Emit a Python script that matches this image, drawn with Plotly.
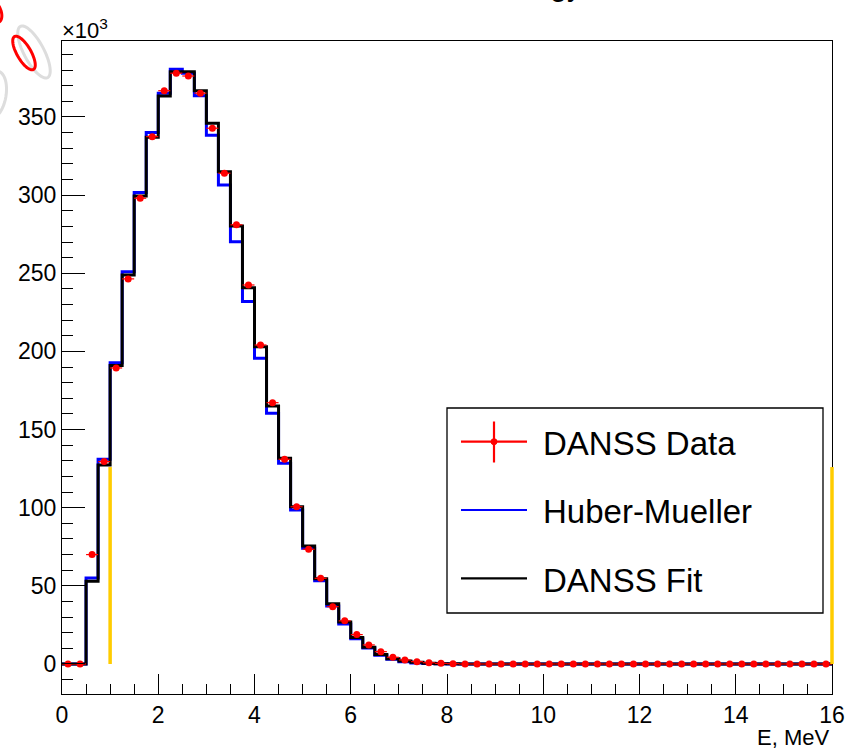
import numpy as np
import plotly.graph_objects as go

# ---------------- data (thousands of events per 0.25 MeV bin) ----------------
bin_edges = [round(0.25 * i, 2) for i in range(65)]          # 0 .. 16 MeV
danss_data = [0, 0, 70.0, 129.5, 189.4, 246.4, 298.0, 337.4, 366.8, 378.0,
              376.2, 365.2, 342.8, 314.0, 281.0, 242.5, 204.1, 167.2, 131.0, 100.6,
              73.4, 54.8, 36.7, 27.6, 18.8, 12.2, 7.9, 4.3, 2.6, 1.5,
              0.8, 0.4, 0.2] + [0.0] * 31
huber_mueller = [0, 0, 55.0, 131.0, 192.8, 251.0, 301.6, 340.0, 365.2, 380.5,
                 378.0, 363.5, 338.3, 306.5, 270.2, 231.9, 195.6, 160.4, 128.4, 98.5,
                 74.0, 53.3, 37.1, 25.6, 16.2, 10.2, 5.6, 3.0, 1.5, 0.7,
                 0.3, 0.1, 0.05] + [0.0] * 31
danss_fit = [0, 0, 53.0, 127.3, 190.9, 248.9, 299.5, 337.0, 363.4, 379.0,
             379.0, 366.8, 346.0, 315.0, 280.2, 240.8, 203.0, 165.1, 131.6, 100.6,
             75.5, 54.5, 38.6, 26.8, 17.0, 10.7, 6.0, 3.4, 1.9, 1.1,
             0.4, 0.2, 0.1] + [0.0] * 31
data_err = [1.0] * 64
threshold_E = [1.0, 16.0]        # fit window limits, MeV
threshold_height = 126.0         # height of yellow markers (thousands)

legend_labels = ["DANSS Data", "Huber-Mueller", "DANSS Fit"]
x_ticks = [0, 2, 4, 6, 8, 10, 12, 14, 16]
y_ticks = [0, 50, 100, 150, 200, 250, 300, 350]
x_range = [0, 16]
y_range = [-19.2, 398.6]

centers = [(bin_edges[i] + bin_edges[i + 1]) / 2 for i in range(64)]
half_w = [(bin_edges[i + 1] - bin_edges[i]) / 2 for i in range(64)]

FONT = "Liberation Sans, Arial, Helvetica, sans-serif"
W, H = 846, 750
L, R, T, B = 62, 14, 41, 56
PW, PH = W - L - R, H - T - B


def px(xp):
    return (xp - L) / PW


def py(yp):
    return (H - B - yp) / PH


def data_to_paper_x(v):
    return (v - x_range[0]) / (x_range[1] - x_range[0])


def data_to_paper_y(v):
    return (v - y_range[0]) / (y_range[1] - y_range[0])


fig = go.Figure()

# Huber-Mueller histogram (blue)
fig.add_trace(go.Scatter(x=bin_edges, y=huber_mueller + [huber_mueller[-1]],
                         mode="lines", line=dict(color="#0000ff", width=3, shape="hv"),
                         showlegend=False, name=legend_labels[1]))
# DANSS fit histogram (black)
fig.add_trace(go.Scatter(x=bin_edges, y=danss_fit + [danss_fit[-1]],
                         mode="lines", line=dict(color="#000000", width=3, shape="hv"),
                         showlegend=False, name=legend_labels[2]))
# DANSS data points (red)
fig.add_trace(go.Scatter(x=centers, y=danss_data, mode="markers",
                         marker=dict(color="#ff0000", size=7, symbol="circle"),
                         error_x=dict(type="data", array=half_w, color="#ff0000",
                                      thickness=1.2, width=0),
                         error_y=dict(type="data", array=data_err, color="#ff0000",
                                      thickness=1.2, width=0),
                         showlegend=False, name=legend_labels[0]))

axis_common = dict(showgrid=False, zeroline=False, showline=True, mirror=True,
                   linecolor="#000000", linewidth=1.3, ticks="inside",
                   tickcolor="#000000", tickwidth=1.3, automargin=False,
                   tickfont=dict(family=FONT, size=23, color="#000000"))

fig.update_xaxes(range=x_range, tickvals=x_ticks, ticktext=[str(v) for v in x_ticks],
                 ticklen=20,
                 minor=dict(dtick=0.5, tick0=0, ticklen=10, ticks="inside",
                            tickcolor="#000000", tickwidth=1.3),
                 **axis_common)
fig.update_yaxes(range=y_range, tickvals=y_ticks, ticktext=[str(v) for v in y_ticks],
                 ticklen=23,
                 minor=dict(dtick=10, tick0=0, ticklen=11, ticks="inside",
                            tickcolor="#000000", tickwidth=1.3),
                 **axis_common)

shapes = []
annotations = []

# yellow fit-window markers (drawn over the frame, like ROOT)
for e in threshold_E:
    shapes.append(dict(type="line", xref="paper", yref="paper",
                       x0=data_to_paper_x(e), x1=data_to_paper_x(e),
                       y0=data_to_paper_y(0), y1=data_to_paper_y(threshold_height),
                       line=dict(color="#ffcc00", width=3.5), layer="above"))

# manual legend box (ROOT style)
shapes.append(dict(type="rect", xref="paper", yref="paper",
                   x0=px(447), x1=px(823), y0=py(613), y1=py(408),
                   line=dict(color="#000000", width=1.3), fillcolor="white", layer="above"))
row_y = [441.7, 510.0, 578.3]
colors = ["#ff0000", "#0000ff", "#000000"]
for lab, ry, c in zip(legend_labels, row_y, colors):
    shapes.append(dict(type="line", xref="paper", yref="paper",
                       x0=px(461), x1=px(527), y0=py(ry), y1=py(ry),
                       line=dict(color=c, width=2.2), layer="above"))
    annotations.append(dict(text=lab, xref="paper", yref="paper", x=px(541), y=py(ry + 2),
                            xanchor="left", yanchor="middle", showarrow=False,
                            font=dict(family=FONT, size=33, color="#000000")))
# cross for data entry
shapes.append(dict(type="line", xref="paper", yref="paper",
                   x0=px(494), x1=px(494), y0=py(421.5), y1=py(462.5),
                   line=dict(color="#ff0000", width=2.2), layer="above"))
shapes.append(dict(type="circle", xref="paper", yref="paper",
                   x0=px(491), x1=px(497), y0=py(444.7), y1=py(438.7),
                   line=dict(color="#ff0000", width=1), fillcolor="#ff0000", layer="above"))

# x10^3 multiplier and axis title
annotations.append(dict(text="×10<sup>3</sup>", xref="paper", yref="paper",
                        x=px(60), y=py(29), xanchor="left", yanchor="middle",
                        showarrow=False, font=dict(family=FONT, size=22, color="#000000")))
annotations.append(dict(text="E, MeV", xref="paper", yref="paper",
                        x=px(831), y=py(738), xanchor="right", yanchor="middle",
                        showarrow=False, font=dict(family=FONT, size=22, color="#000000")))
# title (mostly cut off at the top of the picture)
annotations.append(dict(text="Energy", xref="paper", yref="paper",
                        x=px(584), y=py(-14), xanchor="right", yanchor="middle",
                        showarrow=False, font=dict(family=FONT, size=30, color="#000000")))


# decorative logo pieces at top-left corner (partially outside the page)
def ellipse_path(cx, cy, a, b, ang_deg, n=60):
    t = np.linspace(0, 2 * np.pi, n)
    ang = np.radians(ang_deg)
    xs = cx + a * np.cos(t) * np.cos(ang) - b * np.sin(t) * np.sin(ang)
    ys = cy + a * np.cos(t) * np.sin(ang) + b * np.sin(t) * np.cos(ang)
    pts = [f"{px(xx):.5f},{py(yy):.5f}" for xx, yy in zip(xs, ys)]
    return "M " + " L ".join(pts) + " Z"


shapes.append(dict(type="path", xref="paper", yref="paper",
                   path=ellipse_path(34, 52, 29, 10, 62),
                   line=dict(color="#dddddd", width=3)))
shapes.append(dict(type="path", xref="paper", yref="paper",
                   path=ellipse_path(24, 53, 19, 7, 60),
                   line=dict(color="#ff0000", width=3)))
shapes.append(dict(type="path", xref="paper", yref="paper",
                   path=ellipse_path(-8, 10, 14, 8, 60),
                   line=dict(color="#ff0000", width=3)))
shapes.append(dict(type="path", xref="paper", yref="paper",
                   path=ellipse_path(-6, 95, 12, 24, 10),
                   line=dict(color="#dddddd", width=3)))

fig.update_layout(width=W, height=H, margin=dict(l=L, r=R, t=T, b=B, pad=0),
                  autosize=False, showlegend=False,
                  paper_bgcolor="white", plot_bgcolor="white",
                  shapes=shapes, annotations=annotations,
                  font=dict(family=FONT, color="#000000"))

fig.write_html("out.html", config={"responsive": False})
